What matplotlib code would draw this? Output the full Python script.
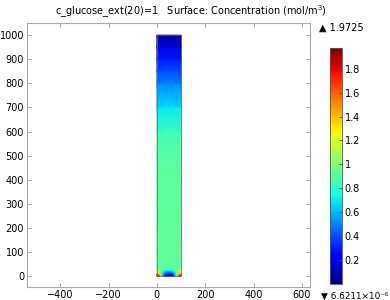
import numpy as np
import matplotlib.pyplot as plt

# values
vmin = 6.6211e-6
vmax = 1.9725

# vertical profile of the concentration (same across the width)
prof_y = [45, 100, 200, 300, 400, 500, 530, 600, 700, 800, 850, 900, 950, 1000]
prof_c = [0.92, 0.92, 0.92, 0.915, 0.91, 0.89, 0.88, 0.84, 0.70, 0.50, 0.40, 0.30, 0.18, 0.04]

# near the bottom the field varies across the width
bot_x = [0, 8, 16, 25, 35, 50, 65, 75, 84, 92, 100]
bot_y = [0, 6, 12, 18, 24, 30, 38]
bot_c = [
    [1.97, 1.85, 1.30, 0.60, 0.12, 0.00, 0.12, 0.60, 1.30, 1.85, 1.97],
    [1.85, 1.60, 1.15, 0.60, 0.22, 0.10, 0.22, 0.60, 1.15, 1.60, 1.85],
    [1.50, 1.35, 1.05, 0.65, 0.38, 0.30, 0.38, 0.65, 1.05, 1.35, 1.50],
    [1.25, 1.15, 0.98, 0.75, 0.56, 0.50, 0.56, 0.75, 0.98, 1.15, 1.25],
    [1.10, 1.05, 0.95, 0.83, 0.72, 0.68, 0.72, 0.83, 0.95, 1.05, 1.10],
    [1.00, 0.98, 0.93, 0.88, 0.83, 0.82, 0.83, 0.88, 0.93, 0.98, 1.00],
    [0.94, 0.93, 0.92, 0.91, 0.90, 0.90, 0.90, 0.91, 0.92, 0.93, 0.94],
]

ys = np.array(bot_y + prof_y, dtype=float)
xs = np.array(bot_x, dtype=float)
Z = np.vstack([np.array(bot_c)] + [np.full(len(xs), c) for c in prof_c])

fig = plt.figure(figsize=(3.9, 3.0), dpi=100)
ax = fig.add_axes([0.069, 0.043, 0.726, 0.88])
X, Y = np.meshgrid(xs, ys)
mesh = ax.pcolormesh(X, Y, Z, shading='gouraud', cmap='jet', vmin=vmin, vmax=vmax)
ax.plot([0, 100, 100, 0, 0], [0, 0, 1000, 1000, 0], color='#666666', lw=0.5)

ax.set_xlim(-538, 634)
ax.set_ylim(-45, 1050)
ax.set_xticks([-400, -200, 0, 200, 400, 600])
ax.set_yticks(range(0, 1001, 100))
ax.tick_params(direction='in', length=3, width=0.6, color='#999999',
               labelsize=7, top=True, right=True, pad=2)
for s in ax.spines.values():
    s.set_color('#aaaaaa')
    s.set_linewidth(0.8)

fig.text(0.49, 0.962, 'c_glucose_ext(20)=1   Surface: Concentration (mol/m$^3$)',
         ha='center', va='center', fontsize=7)

cax = fig.add_axes([0.846, 0.053, 0.031, 0.787])
cb = fig.colorbar(mesh, cax=cax, ticks=[0.2, 0.4, 0.6, 0.8, 1, 1.2, 1.4, 1.6, 1.8])
cb.ax.set_yticklabels(['0.2', '0.4', '0.6', '0.8', '1', '1.2', '1.4', '1.6', '1.8'])
cb.ax.tick_params(direction='in', length=2, width=0.6, labelsize=7, pad=2, color='#555555')
cb.outline.set_edgecolor('#555555')
cb.outline.set_linewidth(0.6)

fig.text(0.818, 0.908, '▲ 1.9725', ha='left', va='center', fontsize=7)
fig.text(0.822, 0.012, '▼ 6.6211×10⁻⁶', ha='left', va='center', fontsize=6.4)

fig.savefig('out.png', dpi=100)
